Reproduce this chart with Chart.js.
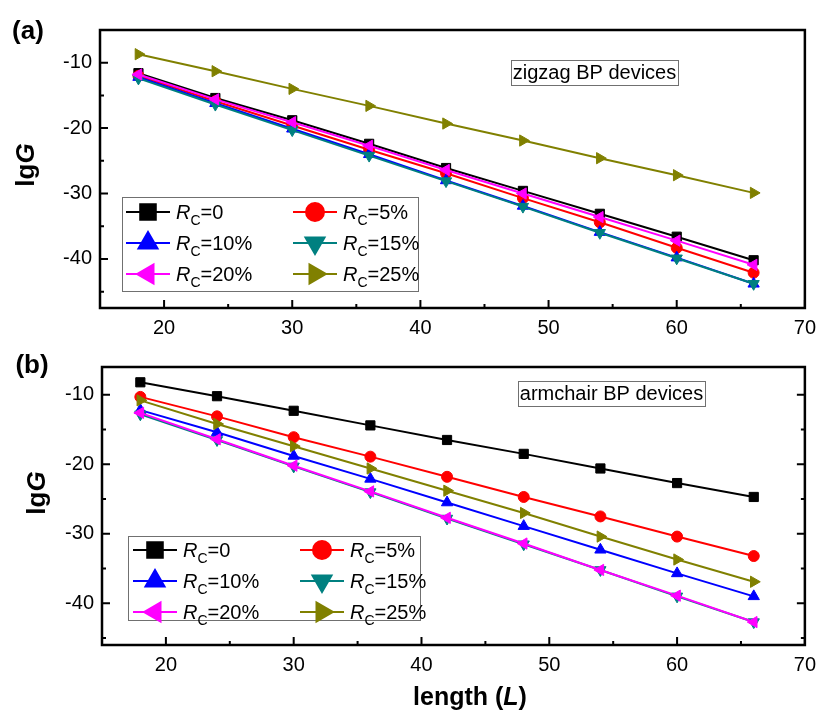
<!DOCTYPE html>
<html>
<head>
<meta charset="utf-8">
<script src="https://cdn.jsdelivr.net/npm/chart.js@4.4.0/dist/chart.umd.min.js"></script>
<style>
  html, body { margin: 0; padding: 0; background: #fff; }
  #wrap { position: relative; width: 824px; height: 711px; }
  canvas { position: absolute; left: 0; }
  #zz { top: 0; }
  #ac { top: 345px; }
</style>
</head>
<body>
<div id="wrap">
  <canvas id="zz" width="824" height="345"></canvas>
  <canvas id="ac" width="824" height="366"></canvas>
</div>
<script>
'use strict';

// ---- data ----
var lengths = [18, 24, 30, 36, 42, 48, 54, 60, 66];
var rcLabels = ['0', '5%', '10%', '15%', '20%', '25%'];

// (a) zigzag
var zigzagR0  = [-11.6, -15.4, -18.8, -22.4, -26.1, -29.6, -33.1, -36.6, -40.2];
var zigzagR5  = [-12.0, -15.9, -19.6, -23.3, -26.9, -30.7, -34.4, -38.3, -42.1];
var zigzagR10 = [-12.2, -16.2, -20.1, -24.0, -28.0, -31.9, -35.9, -39.8, -43.8];
var zigzagR15 = [-12.4, -16.4, -20.3, -24.2, -28.1, -32.0, -36.0, -39.9, -43.8];
var zigzagR20 = [-11.8, -15.6, -19.1, -22.7, -26.4, -30.0, -33.6, -37.2, -40.9];
var zigzagR25 = [-8.7, -11.3, -14.0, -16.6, -19.3, -21.9, -24.6, -27.2, -29.9];

// (b) armchair
var armchairR0  = [-8.2, -10.2, -12.3, -14.4, -16.5, -18.5, -20.6, -22.7, -24.7];
var armchairR5  = [-10.3, -13.1, -16.1, -18.9, -21.8, -24.7, -27.5, -30.4, -33.2];
var armchairR10 = [-12.2, -15.4, -18.8, -22.1, -25.5, -28.9, -32.3, -35.7, -39.0];
var armchairR15 = [-12.8, -16.5, -20.3, -24.0, -27.8, -31.5, -35.2, -39.0, -42.7];
var armchairR20 = [-12.6, -16.4, -20.2, -23.9, -27.7, -31.4, -35.2, -38.9, -42.7];
var armchairR25 = [-10.8, -14.2, -17.4, -20.6, -23.8, -27.0, -30.4, -33.7, -36.9];

var xTicks = [20, 30, 40, 50, 60, 70];
var xMinorTicks = [25, 35, 45, 55, 65];
var yTicks = [-10, -20, -30, -40];
var yMinorTicks = [-15, -25, -35, -45];

// ---- styles ----
var FONT = '"Liberation Sans", Arial, sans-serif';
var colors = ['#000000', '#ff0000', '#0000ff', '#008080', '#ff00ff', '#808000'];
var markers = ['rect', 'circle', 'triangle', 'triangle', 'triangle', 'triangle'];
var rotations = [0, 0, 0, 180, 270, 90];

function drawRuns(ctx, runs, x, y, align) {
  var w = 0;
  runs.forEach(function (r) { ctx.font = r.font; w += ctx.measureText(r.t).width; });
  var cx = align === 'center' ? x - w / 2 : x;
  ctx.textAlign = 'left';
  ctx.textBaseline = 'alphabetic';
  runs.forEach(function (r) {
    ctx.font = r.font;
    ctx.fillText(r.t, cx, y + (r.dy || 0));
    cx += ctx.measureText(r.t).width;
  });
}

var decorPlugin = {
  id: 'decor',
  afterDraw: function (chart) {
    var p = chart.options.plugins.decor;
    var ctx = chart.ctx;
    var a = chart.chartArea;
    var xs = chart.scales.x, ys = chart.scales.y;
    ctx.save();

    // legend box
    var lb = p.legendBox;
    ctx.fillStyle = '#fff';
    ctx.fillRect(lb[0], lb[1], lb[2], lb[3]);
    ctx.strokeStyle = '#707070';
    ctx.lineWidth = 1;
    ctx.strokeRect(lb[0] + 0.5, lb[1] + 0.5, lb[2], lb[3]);
    for (var i = 0; i < rcLabels.length; i++) {
      var col = i % 2, row = Math.floor(i / 2);
      var lx = p.legendCols[col], ly = p.legendRows[row];
      ctx.strokeStyle = colors[i];
      ctx.fillStyle = colors[i];
      ctx.lineWidth = 2;
      ctx.beginPath();
      ctx.moveTo(lx, ly);
      ctx.lineTo(lx + 44, ly);
      ctx.stroke();
      Chart.helpers.drawPoint(ctx, {
        pointStyle: markers[i], rotation: rotations[i],
        radius: markers[i] === 'circle' ? 9 : 11, borderWidth: 1
      }, lx + 22, ly);
      ctx.fillStyle = '#000';
      drawRuns(ctx, [
        { t: 'R', font: 'italic 20px ' + FONT },
        { t: 'C', font: '14px ' + FONT, dy: 6 },
        { t: '=' + rcLabels[i], font: '20px ' + FONT }
      ], lx + 50, ly + 7, 'left');
    }

    // note box
    var nb = p.noteBox;
    ctx.fillStyle = '#fff';
    ctx.fillRect(nb[0], nb[1], nb[2], nb[3]);
    ctx.strokeStyle = '#707070';
    ctx.lineWidth = 1;
    ctx.strokeRect(nb[0] + 0.5, nb[1] + 0.5, nb[2], nb[3]);
    ctx.fillStyle = '#000';
    ctx.font = '20px ' + FONT;
    ctx.textAlign = 'center';
    ctx.textBaseline = 'middle';
    ctx.fillText(p.note, nb[0] + nb[2] / 2, nb[1] + nb[3] / 2 + 1);

    // frame and inward ticks
    ctx.strokeStyle = '#000';
    ctx.lineWidth = 2.5;
    ctx.strokeRect(a.left, a.top, a.right - a.left, a.bottom - a.top);
    ctx.lineWidth = 2;
    ctx.beginPath();
    xTicks.forEach(function (v) {
      var px = xs.getPixelForValue(v);
      ctx.moveTo(px, a.bottom); ctx.lineTo(px, a.bottom - 8);
    });
    xMinorTicks.forEach(function (v) {
      var px = xs.getPixelForValue(v);
      ctx.moveTo(px, a.bottom); ctx.lineTo(px, a.bottom - 4);
    });
    yTicks.forEach(function (v) {
      var py = ys.getPixelForValue(v);
      ctx.moveTo(a.left, py); ctx.lineTo(a.left + 8, py);
      if (p.rightTicks) { ctx.moveTo(a.right, py); ctx.lineTo(a.right - 8, py); }
    });
    yMinorTicks.forEach(function (v) {
      var py = ys.getPixelForValue(v);
      ctx.moveTo(a.left, py); ctx.lineTo(a.left + 4, py);
      if (p.rightTicks) { ctx.moveTo(a.right, py); ctx.lineTo(a.right - 4, py); }
    });
    ctx.stroke();

    // panel label
    ctx.fillStyle = '#000';
    ctx.font = 'bold 26px ' + FONT;
    ctx.textAlign = 'center';
    ctx.textBaseline = 'middle';
    ctx.fillText(p.label, p.labelPos[0], p.labelPos[1]);

    // y title lgG
    ctx.save();
    ctx.translate(p.yTitlePos[0], p.yTitlePos[1]);
    ctx.rotate(-Math.PI / 2);
    drawRuns(ctx, [
      { t: 'lg', font: 'bold 26px ' + FONT },
      { t: 'G', font: 'italic bold 26px ' + FONT }
    ], 0, 7, 'center');
    ctx.restore();

    // x title
    if (p.xTitlePos) {
      drawRuns(ctx, [
        { t: 'length (', font: 'bold 25px ' + FONT },
        { t: 'L', font: 'italic bold 25px ' + FONT },
        { t: ')', font: 'bold 25px ' + FONT }
      ], p.xTitlePos[0], p.xTitlePos[1], 'center');
    }
    ctx.restore();
  }
};

function makePanel(id, series, p) {
  var datasets = series.map(function (vals, i) {
    return {
      label: 'Rc=' + rcLabels[i],
      data: lengths.map(function (x, j) { return { x: x, y: vals[j] }; }),
      borderColor: colors[i],
      backgroundColor: colors[i],
      borderWidth: 2,
      tension: 0,
      pointStyle: markers[i],
      rotation: rotations[i],
      pointRadius: markers[i] === 'circle' ? 5.5 : 6.5,
      pointBorderWidth: 1,
      order: series.length - i
    };
  });

  return new Chart(document.getElementById(id), {
    type: 'line',
    data: { datasets: datasets },
    plugins: [decorPlugin],
    options: {
      responsive: false,
      animation: false,
      layout: { padding: { left: 0, top: p.padTop, right: p.padRight, bottom: 0 } },
      plugins: {
        legend: { display: false },
        tooltip: { enabled: false },
        decor: p
      },
      scales: {
        x: {
          type: 'linear', min: 15, max: 70,
          grid: { display: false, drawTicks: false },
          border: { display: false },
          ticks: { color: '#000', font: { family: FONT, size: 20 }, padding: 8, autoSkip: false, maxRotation: 0 },
          afterBuildTicks: function (s) { s.ticks = xTicks.map(function (v) { return { value: v }; }); },
          afterFit: function (s) { s.height = p.xHeight; }
        },
        y: {
          min: p.yMin, max: p.yMax,
          grid: { display: false, drawTicks: false },
          border: { display: false },
          ticks: { color: '#000', font: { family: FONT, size: 20 }, padding: 8, autoSkip: false },
          afterBuildTicks: function (s) { s.ticks = yTicks.map(function (v) { return { value: v }; }); },
          afterFit: function (s) { s.width = p.yWidth; }
        }
      }
    }
  });
}

makePanel('zz', [zigzagR0, zigzagR5, zigzagR10, zigzagR15, zigzagR20, zigzagR25], {
  yMin: -47.5, yMax: -5,
  padTop: 30, padRight: 14, yWidth: 100, xHeight: 37,
  label: '(a)', labelPos: [28, 32],
  yTitlePos: [27, 165],
  note: 'zigzag BP devices', noteBox: [511, 60, 167, 25],
  legendBox: [122, 197, 296, 94], legendRows: [212, 243, 274], legendCols: [126, 293],
  rightTicks: false, xTitlePos: null
});

makePanel('ac', [armchairR0, armchairR5, armchairR10, armchairR15, armchairR20, armchairR25], {
  yMin: -46, yMax: -6,
  padTop: 22, padRight: 12, yWidth: 102, xHeight: 66,
  label: '(b)', labelPos: [32, 21],
  yTitlePos: [38, 148],
  note: 'armchair BP devices', noteBox: [518, 36, 187, 25],
  legendBox: [128, 191, 292, 84], legendRows: [205, 236, 267], legendCols: [133, 300],
  rightTicks: true, xTitlePos: [470, 360]
});
</script>
</body>
</html>
